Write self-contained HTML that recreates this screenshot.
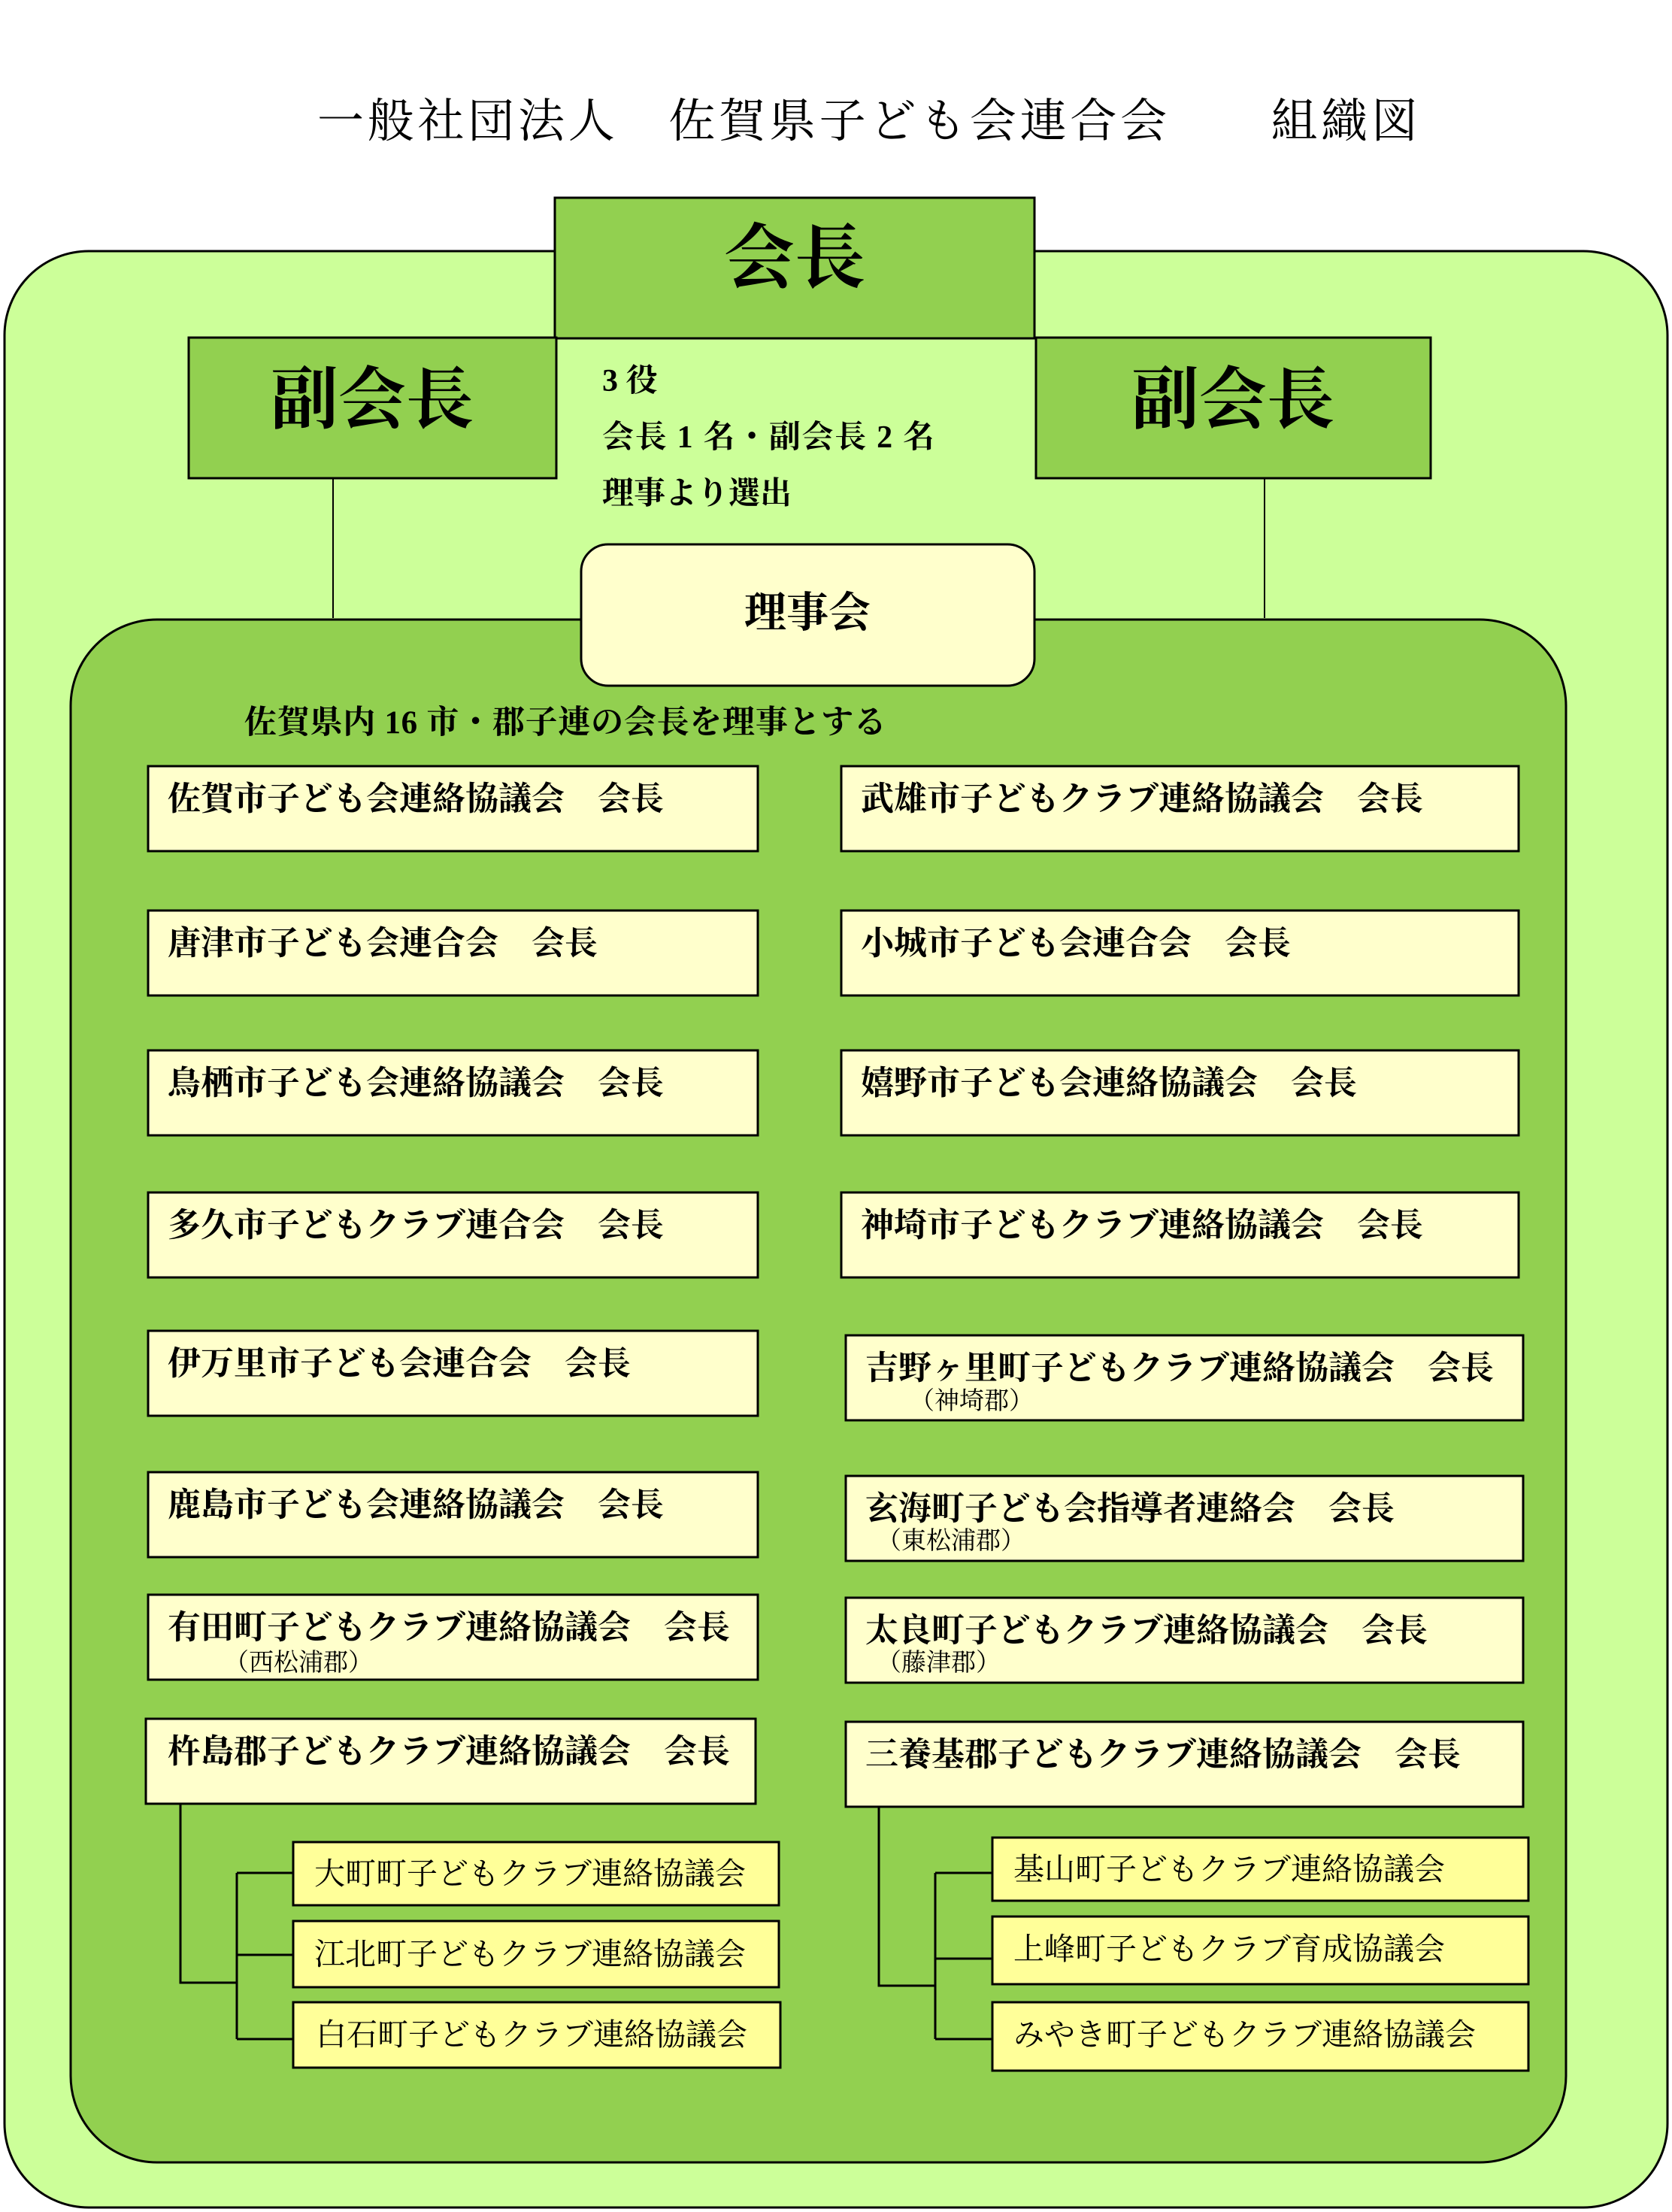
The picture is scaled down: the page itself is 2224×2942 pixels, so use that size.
<!DOCTYPE html>
<html><head><meta charset="utf-8"><style>
html,body{margin:0;padding:0;background:#fff}
svg{display:block}
text{font-family:"Liberation Serif","Noto Serif CJK SC",serif;fill:#000}
.b{font-weight:bold}
</style></head><body>
<svg width="2224" height="2942" viewBox="0 0 2224 2942" xmlns="http://www.w3.org/2000/svg">
<text x="422" y="182" font-size="62" textLength="1464" lengthAdjust="spacing">一般社団法人　佐賀県子ども会連合会　　組織図</text>
<rect x="6" y="334" width="2212" height="2602" rx="112" fill="#ccff99" stroke="#000" stroke-width="3"/>
<line x1="443" y1="636" x2="443" y2="822" stroke="#000" stroke-width="2"/>
<line x1="1682" y1="636" x2="1682" y2="822" stroke="#000" stroke-width="2"/>
<rect x="94" y="824" width="1989" height="2052" rx="115" fill="#92d050" stroke="#000" stroke-width="3"/>
<rect x="738" y="263" width="638" height="187" fill="#92d050" stroke="#000" stroke-width="3"/>
<text x="1057" y="375" font-size="94" class="b" text-anchor="middle">会長</text>
<rect x="251" y="449" width="489" height="187" fill="#92d050" stroke="#000" stroke-width="3"/>
<text x="495" y="562" font-size="90" class="b" text-anchor="middle">副会長</text>
<rect x="1378" y="449" width="525" height="187" fill="#92d050" stroke="#000" stroke-width="3"/>
<text x="1640" y="562" font-size="90" class="b" text-anchor="middle">副会長</text>
<text x="801" y="520" font-size="42" class="b">3 役</text>
<text x="801" y="595" font-size="42" class="b" textLength="442" lengthAdjust="spacing">会長 1 名・副会長 2 名</text>
<text x="801" y="670" font-size="42" class="b">理事より選出</text>
<rect x="773" y="724" width="603" height="188" rx="36" fill="#ffffcc" stroke="#000" stroke-width="3"/>
<text x="1074" y="834" font-size="56" class="b" text-anchor="middle">理事会</text>
<text x="325" y="975" font-size="43" class="b" textLength="854" lengthAdjust="spacing">佐賀県内 16 市・郡子連の会長を理事とする</text>
<g fill="#ffffcc" stroke="#000" stroke-width="3">
<rect x="197" y="1019" width="811" height="113"/>
<rect x="197" y="1211" width="811" height="113"/>
<rect x="197" y="1397" width="811" height="113"/>
<rect x="197" y="1586" width="811" height="113"/>
<rect x="197" y="1770" width="811" height="113"/>
<rect x="197" y="1958" width="811" height="113"/>
<rect x="197" y="2121" width="811" height="113"/>
<rect x="194" y="2286" width="811" height="113"/>
<rect x="1119" y="1019" width="901" height="113"/>
<rect x="1119" y="1211" width="901" height="113"/>
<rect x="1119" y="1397" width="901" height="113"/>
<rect x="1119" y="1586" width="901" height="113"/>
<rect x="1125" y="1776" width="901" height="113"/>
<rect x="1125" y="1963" width="901" height="113"/>
<rect x="1125" y="2125" width="901" height="113"/>
<rect x="1125" y="2290" width="901" height="113"/>
</g>
<g font-size="44" class="b">
<text x="223" y="1077">佐賀市子ども会連絡協議会　会長</text>
<text x="223" y="1269">唐津市子ども会連合会　会長</text>
<text x="223" y="1455">鳥栖市子ども会連絡協議会　会長</text>
<text x="223" y="1644">多久市子どもクラブ連合会　会長</text>
<text x="223" y="1828">伊万里市子ども会連合会　会長</text>
<text x="223" y="2016">鹿島市子ども会連絡協議会　会長</text>
<text x="223" y="2179">有田町子どもクラブ連絡協議会　会長</text>
<text x="223" y="2344">杵島郡子どもクラブ連絡協議会　会長</text>
<text x="1145" y="1077">武雄市子どもクラブ連絡協議会　会長</text>
<text x="1145" y="1269">小城市子ども会連合会　会長</text>
<text x="1145" y="1455">嬉野市子ども会連絡協議会　会長</text>
<text x="1145" y="1644">神埼市子どもクラブ連絡協議会　会長</text>
<text x="1151" y="1834">吉野ヶ里町子どもクラブ連絡協議会　会長</text>
<text x="1151" y="2021">玄海町子ども会指導者連絡会　会長</text>
<text x="1151" y="2183">太良町子どもクラブ連絡協議会　会長</text>
<text x="1151" y="2348">三養基郡子どもクラブ連絡協議会　会長</text>
</g>
<g font-size="33">
<text x="298" y="2222">（西松浦郡）</text>
<text x="1210" y="1874">（神埼郡）</text>
<text x="1166" y="2060">（東松浦郡）</text>
<text x="1166" y="2222">（藤津郡）</text>
</g>
<g stroke="#000" stroke-width="3" fill="none">
<polyline points="240,2399 240,2637 315,2637"/>
<line x1="315" y1="2491" x2="315" y2="2712"/>
<line x1="315" y1="2491" x2="390" y2="2491"/>
<line x1="315" y1="2600" x2="390" y2="2600"/>
<line x1="315" y1="2712" x2="390" y2="2712"/>
<polyline points="1169,2403 1169,2641 1244,2641"/>
<line x1="1244" y1="2491" x2="1244" y2="2712"/>
<line x1="1244" y1="2491" x2="1320" y2="2491"/>
<line x1="1244" y1="2605" x2="1320" y2="2605"/>
<line x1="1244" y1="2712" x2="1320" y2="2712"/>
</g>
<g fill="#ffff99" stroke="#000" stroke-width="3">
<rect x="390" y="2450" width="646" height="84"/>
<rect x="390" y="2555" width="646" height="88"/>
<rect x="390" y="2663" width="648" height="87"/>
<rect x="1320" y="2444" width="713" height="84"/>
<rect x="1320" y="2549" width="713" height="90"/>
<rect x="1320" y="2663" width="713" height="91"/>
</g>
<g font-size="41">
<text x="418" y="2506">大町町子どもクラブ連絡協議会</text>
<text x="418" y="2613">江北町子どもクラブ連絡協議会</text>
<text x="420" y="2720">白石町子どもクラブ連絡協議会</text>
<text x="1348" y="2500">基山町子どもクラブ連絡協議会</text>
<text x="1348" y="2606">上峰町子どもクラブ育成協議会</text>
<text x="1348" y="2720">みやき町子どもクラブ連絡協議会</text>
</g>
</svg>
</body></html>
